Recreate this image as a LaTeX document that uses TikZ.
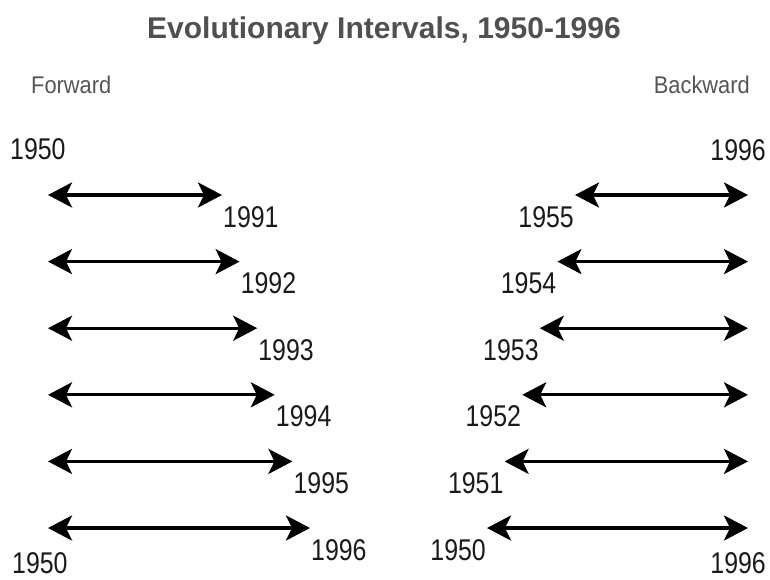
\documentclass[tikz,border=0pt]{standalone}
\usepackage{fontspec}
\setmainfont{Liberation Sans}
\usetikzlibrary{arrows.meta}
\definecolor{titlegray}{HTML}{505050}
\definecolor{labelgray}{HTML}{555555}
\definecolor{yearcol}{HTML}{1A1A1A}
\tikzset{
  interval/.style={line width=3.2pt, draw=black,
    {Stealth[length=24pt,width=25pt,inset=6pt]}-{Stealth[length=24pt,width=25pt,inset=6pt]}},
  year/.style={inner sep=0pt, text=yearcol, font=\fontsize{30}{31}\selectfont, xscale=0.83},
  yearL/.style={year, anchor=base west},
  yearR/.style={year, anchor=base east},
  dirlabel/.style={inner sep=0pt, text=labelgray, font=\fontsize{23}{25}\selectfont, xscale=0.95, yscale=1.05},
  titlestyle/.style={inner sep=0pt, text=titlegray, font=\fontsize{30}{32}\selectfont\bfseries, anchor=base}
}
\begin{document}
\begin{tikzpicture}[x=1pt,y=-1pt]
\useasboundingbox (0,0) rectangle (770,579);
\node[titlestyle] (title) at (384,38) {Evolutionary Intervals, 1950-1996};
\node[dirlabel, anchor=base west] (fwd) at (31,93) {Forward};
\node[dirlabel, anchor=base east] (bwd) at (750,93) {Backward};
\node[yearL] (tl) at (10,159) {1950};
\node[yearL] (bl) at (12,573) {1950};
\node[yearR] (tr) at (766,160) {1996};
\node[yearR] (br) at (766,573) {1996};
% forward rows
\foreach \i/\yr in {0/1991,1/1992,2/1993,3/1994,4/1995,5/1996}{
  \pgfmathsetmacro{\yy}{195+66.6*\i}
  \pgfmathsetmacro{\xr}{222+17.6*\i}
  \coordinate (fa\i) at (48,\yy);
  \coordinate (fb\i) at (\xr,\yy);
  \draw[interval] (fa\i) -- (fb\i);
  \node[yearL] (fl\i) at (\xr+1,\yy+32) {\yr};
}
% backward rows
\foreach \i/\yr in {0/1955,1/1954,2/1953,3/1952,4/1951,5/1950}{
  \pgfmathsetmacro{\yy}{195+66.6*\i}
  \pgfmathsetmacro{\xl}{575-17.6*\i}
  \coordinate (ba\i) at (\xl,\yy);
  \coordinate (bb\i) at (748,\yy);
  \draw[interval] (ba\i) -- (bb\i);
  \node[yearR] (bl\i) at (\xl-1,\yy+32) {\yr};
}
\end{tikzpicture}
\end{document}
